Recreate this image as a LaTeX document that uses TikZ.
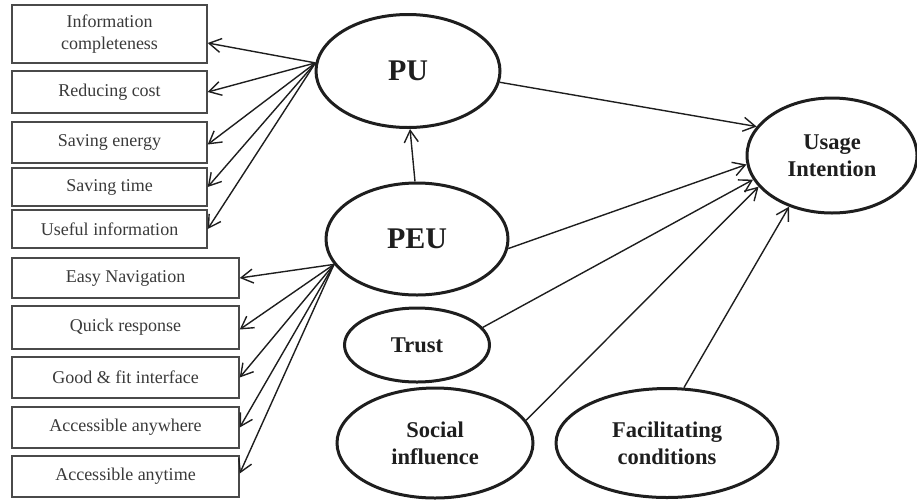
\documentclass[tikz,border=0pt]{standalone}
\usepackage{fontspec}
\setmainfont{Liberation Serif}
\usetikzlibrary{shapes.geometric,arrows.meta}
\definecolor{boxgray}{HTML}{4A4A4A}
\definecolor{textgray}{HTML}{3A3A3A}
\definecolor{inkdark}{HTML}{1E1E1E}
\tikzset{
  box/.style={draw=boxgray, line width=1.4pt, inner sep=0pt, align=center,
    text=textgray, font=\fontsize{18}{22}\selectfont},
  upbox/.style={box, minimum width=195pt},
  lowbox/.style={box, minimum width=227pt},
  construct/.style={ellipse, draw=inkdark, line width=3pt, inner sep=0pt, align=center,
    text=inkdark, font=\bfseries\fontsize{22.5}{27}\selectfont},
  bigconstruct/.style={construct, font=\bfseries\fontsize{30}{34}\selectfont},
  arr/.style={-{Straight Barb[length=12pt,width=14pt]}, line width=1.4pt, draw=inkdark},
}
\begin{document}
\begin{tikzpicture}[x=1pt,y=1pt]
\useasboundingbox (0,0) rectangle (917,-499);
% upper indicator boxes
\node[upbox, minimum height=58pt] (b1) at (109.5,-34) {Information\\completeness};
\node[upbox, minimum height=42pt] (b2) at (109.5,-92) {Reducing cost};
\node[upbox, minimum height=41pt] (b3) at (109.5,-142.5) {Saving energy};
\node[upbox, minimum height=38pt] (b4) at (109.5,-187) {Saving time};
\node[upbox, minimum height=38pt] (b5) at (109.5,-229) {Useful information};
% lower indicator boxes
\node[lowbox, minimum height=40pt] (c1) at (125.5,-278) {Easy Navigation};
\node[lowbox, minimum height=43pt] (c2) at (125.5,-327.5) {Quick response};
\node[lowbox, minimum height=41pt] (c3) at (125.5,-377.5) {Good \& fit interface};
\node[lowbox, minimum height=41pt] (c4) at (125.5,-427.5) {Accessible anywhere};
\node[lowbox, minimum height=41pt] (c5) at (125.5,-476.5) {Accessible anytime};
% constructs
\node[bigconstruct, minimum width=184pt, minimum height=113pt] (PU) at (408,-71) {PU};
\node[bigconstruct, minimum width=182pt, minimum height=112pt] (PEU) at (417,-239) {PEU};
\node[construct, minimum width=145pt, minimum height=74pt] (T) at (417,-345) {Trust};
\node[construct, minimum width=196pt, minimum height=110pt] (SI) at (435,-443) {Social\\influence};
\node[construct, minimum width=222pt, minimum height=109pt] (FC) at (667,-443) {Facilitating\\conditions};
\node[construct, minimum width=170pt, minimum height=115pt] (UI) at (832,-155.5) {Usage\\Intention};
% PU indicators
\draw[arr] (PU.175) -- ([yshift=-9pt]b1.east);
\draw[arr] (PU.175) -- (b2.east);
\draw[arr] (PU.175) -- ([yshift=-2pt]b3.east);
\draw[arr] (PU.175) -- (b4.east);
\draw[arr] (PU.175) -- (b5.east);
% PEU indicators
\draw[arr] (PEU.197) -- (c1.east);
\draw[arr] (PEU.197) -- ([yshift=-2pt]c2.east);
\draw[arr] (PEU.197) -- (c3.east);
\draw[arr] (PEU.197) -- (c4.east);
\draw[arr] (PEU.197) -- ([yshift=3pt]c5.east);
% structural paths
\draw[arr] (PEU.92) -- (PU.272);
\draw[arr] (PU.-7) -- (UI.159);
\draw[arr] (PEU.-6) -- (UI.186);
\draw[arr] (T.15) -- (UI.197);
\draw[arr] (SI.14) -- (UI.203);
\draw[arr] (FC.73) -- (UI.230);
\end{tikzpicture}
\end{document}
